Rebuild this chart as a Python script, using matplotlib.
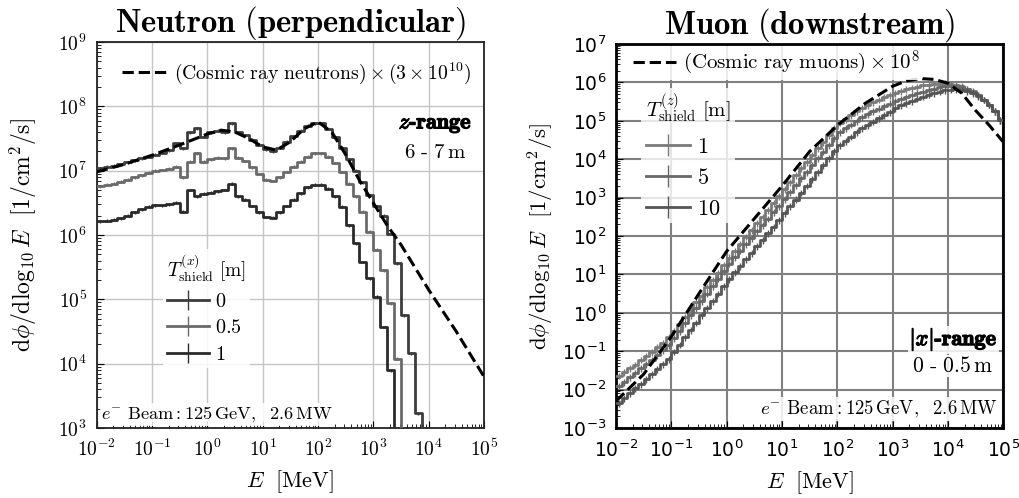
import numpy as np
import matplotlib
matplotlib.use("Agg")
import matplotlib.pyplot as plt
import matplotlib.patheffects as pe
from matplotlib.ticker import LogLocator, FuncFormatter, NullFormatter

plt.rcParams['mathtext.fontset'] = 'cm'

# ---------------- data ----------------
# Neutron (perpendicular): log10 flux per bin, 8 bins / decade from 1e-2 to 1e5 MeV
neutron_labels = ["0", "0.5", "1"]
neutron_t0 = [7.04, 7.06, 7.08, 7.10, 7.13, 7.16, 7.19, 7.22,
              7.25, 7.28, 7.32, 7.43, 7.35, 7.60, 7.66, 7.53,
              7.60, 7.62, 7.60, 7.74, 7.60, 7.55, 7.48, 7.40,
              7.33, 7.30, 7.36, 7.45, 7.54, 7.62, 7.70, 7.74,
              7.74, 7.65, 7.52, 7.36, 7.18, 7.00, 6.82, 6.62,
              6.45, 6.30, 6.02, 5.56, 4.75, 4.16, 3.23, -1,
              -1, -1, -1, -1, -1, -1, -1, -1]
neutron_t05 = [6.76, 6.78, 6.80, 6.83, 6.86, 6.90, 6.93, 6.97,
               7.00, 7.01, 7.03, 7.06, 6.90, 7.14, 7.27, 7.14,
               7.18, 7.20, 7.19, 7.35, 7.20, 7.15, 7.05, 6.95,
               6.86, 6.84, 6.90, 6.98, 7.06, 7.14, 7.22, 7.27,
               7.27, 7.22, 7.12, 6.98, 6.80, 6.60, 6.36, 6.05,
               5.77, 5.45, 4.94, 4.08, -1, -1, -1, -1,
               -1, -1, -1, -1, -1, -1, -1, -1]
neutron_t1 = [6.21, 6.22, 6.24, 6.26, 6.30, 6.35, 6.40, 6.44,
              6.46, 6.46, 6.48, 6.50, 6.36, 6.70, 6.60, 6.64,
              6.66, 6.68, 6.70, 6.80, 6.60, 6.55, 6.45, 6.35,
              6.28, 6.27, 6.35, 6.45, 6.55, 6.65, 6.74, 6.78,
              6.78, 6.72, 6.60, 6.44, 6.15, 5.87, 5.58, 5.33,
              5.04, 4.57, 3.90, -1, -1, -1, -1, -1,
              -1, -1, -1, -1, -1, -1, -1, -1]
# cosmic ray neutrons x 3e10 (log10 E, log10 flux)
cr_n_logE = [-2, -1.5, -1, -0.5, 0, 0.25, 0.5, 0.75, 1, 1.25, 1.5, 1.75, 2, 2.25,
             2.5, 2.75, 3, 3.25, 3.5, 3.75, 4, 4.5, 5]
cr_n_logF = [6.98, 7.10, 7.24, 7.40, 7.57, 7.63, 7.60, 7.50, 7.37, 7.32, 7.45, 7.65, 7.76, 7.60,
             7.25, 6.85, 6.50, 6.15, 5.85, 5.50, 5.15, 4.50, 3.80]

# Muon (downstream): log10 flux per bin, 10 bins / decade from 1e-2 to 1e5 MeV
muon_labels = ["1", "5", "10"]
muon_t1 = [-1.64, -1.55, -1.44, -1.35, -1.22, -1.12, -1.02, -0.90, -0.78, -0.64,
           -0.47, -0.30, -0.10, 0.08, 0.27, 0.45, 0.66, 0.85, 1.04, 1.24,
           1.44, 1.62, 1.80, 1.98, 2.16, 2.33, 2.50, 2.68, 2.86, 3.03,
           3.22, 3.40, 3.58, 3.76, 3.93, 4.10, 4.28, 4.45, 4.62, 4.80,
           4.95, 5.05, 5.15, 5.25, 5.33, 5.41, 5.48, 5.55, 5.61, 5.67,
           5.73, 5.78, 5.82, 5.86, 5.89, 5.92, 5.94, 5.96, 5.97, 5.98,
           5.97, 5.94, 5.90, 5.84, 5.76, 5.66, 5.55, 5.42, 5.25, 5.02]
muon_t5 = [-1.90, -1.80, -1.68, -1.57, -1.45, -1.34, -1.22, -1.10, -0.98, -0.85,
           -0.66, -0.47, -0.27, -0.07, 0.12, 0.31, 0.50, 0.70, 0.89, 1.09,
           1.28, 1.45, 1.62, 1.78, 1.95, 2.12, 2.28, 2.45, 2.62, 2.78,
           2.96, 3.14, 3.32, 3.50, 3.67, 3.85, 4.02, 4.20, 4.37, 4.55,
           4.70, 4.80, 4.90, 5.00, 5.09, 5.17, 5.25, 5.32, 5.39, 5.45,
           5.52, 5.58, 5.63, 5.68, 5.72, 5.76, 5.80, 5.84, 5.87, 5.90,
           5.91, 5.91, 5.89, 5.84, 5.77, 5.67, 5.55, 5.42, 5.25, 5.02]
muon_t10 = [-2.35, -2.23, -2.10, -1.97, -1.85, -1.72, -1.60, -1.47, -1.34, -1.20,
            -1.01, -0.83, -0.64, -0.45, -0.26, -0.07, 0.12, 0.31, 0.50, 0.70,
            0.88, 1.05, 1.22, 1.39, 1.56, 1.73, 1.90, 2.07, 2.24, 2.41,
            2.59, 2.77, 2.95, 3.13, 3.31, 3.49, 3.67, 3.85, 4.03, 4.21,
            4.37, 4.48, 4.59, 4.70, 4.80, 4.89, 4.98, 5.07, 5.15, 5.23,
            5.33, 5.40, 5.46, 5.52, 5.58, 5.63, 5.68, 5.72, 5.76, 5.79,
            5.81, 5.82, 5.81, 5.78, 5.73, 5.65, 5.55, 5.42, 5.25, 5.02]
# cosmic ray muons x 1e8
cr_mu_logE = [-2, -1.5, -1, -0.5, 0, 0.5, 1, 1.5, 2, 2.5, 3, 3.25, 3.5, 3.75, 4, 4.25, 4.5, 4.75, 5]
cr_mu_logF = [-2.30, -1.60, -0.62, 0.50, 1.60, 2.45, 3.30, 4.20, 4.88, 5.45, 5.90, 6.04, 6.10, 6.08,
              5.98, 5.72, 5.27, 4.88, 4.45]

# tick decades
x_decades = [-2, -1, 0, 1, 2, 3, 4, 5]
n_y_decades = [3, 4, 5, 6, 7, 8, 9]
m_y_decades = [-3, -2, -1, 0, 1, 2, 3, 4, 5, 6, 7]


def hist(ax, edges, logvals, color, frac, lw=2.0):
    vals = 10.0 ** np.asarray(logvals)
    centers = np.sqrt(edges[:-1] * edges[1:])
    line, = ax.step(edges, np.append(vals, vals[-1]), where='post', color=color, lw=lw, zorder=3)
    eb = ax.errorbar(centers, vals, yerr=frac * vals, fmt='none', ecolor=color, elinewidth=1.0, zorder=3)
    return (line, eb)


def cm_log(v, pos):
    return r"$10^{%d}$" % int(round(np.log10(v)))


bold = [pe.withStroke(linewidth=0.9, foreground='black')]
white_box = dict(facecolor='white', edgecolor='none', alpha=0.85, pad=1)

fig = plt.figure(figsize=(10.19, 4.98), dpi=100)
ax1 = fig.add_axes([0.0949, 0.1406, 0.380, 0.775])
ax2 = fig.add_axes([0.6045, 0.1406, 0.380, 0.771])

# ---------------- neutron panel ----------------
n_edges = np.logspace(-2, 5, 57)
n_colors = ['#3c3c3c', '#6a6a6a', '#2a2a2a']
n_handles = []
for vals, c in zip([neutron_t0, neutron_t05, neutron_t1], n_colors):
    n_handles.append(hist(ax1, n_edges, vals, c, 0.05, lw=2.0))
cr_n, = ax1.plot(10.0 ** np.array(cr_n_logE), 10.0 ** np.array(cr_n_logF), 'k--', lw=2.2, zorder=4)

ax1.set_xscale('log')
ax1.set_yscale('log')
ax1.set_xlim(1e-2, 1e5)
ax1.set_ylim(1e3, 1e9)
ax1.grid(True, which='major', color='#c4c4c4', lw=1.0)
ax1.set_axisbelow(True)
for sp in ax1.spines.values():
    sp.set_linewidth(1.3)
    sp.set_color('#222222')

leg1 = ax1.legend([cr_n], [r"$\mathrm{(Cosmic\ ray\ neutrons)}\times(3\times10^{10})$"],
                  loc='center left', bbox_to_anchor=(0.065, 0.918), frameon=False,
                  fontsize=14.2, handlelength=2.4, handletextpad=0.25, borderpad=0, borderaxespad=0)
ax1.add_artist(leg1)
ax1.legend(n_handles, [r"$%s$" % s for s in neutron_labels],
           title=r"$T^{(x)}_{\mathrm{shield}}\ [\mathrm{m}]$", title_fontsize=14, alignment='left',
           loc='center left', bbox_to_anchor=(0.17, 0.31), fontsize=14.5, handlelength=2.1,
           handletextpad=0.3, labelspacing=0.38, borderpad=0.2, borderaxespad=0,
           framealpha=0.85, edgecolor='none', facecolor='white')

ax1.text(0.969, 0.785, r"$z$-range", transform=ax1.transAxes, ha='right', va='center',
         fontsize=16, fontfamily='cmb10', path_effects=bold)
ax1.text(0.873, 0.716, r"$6\ \text{-}\ 7\,\mathrm{m}$", transform=ax1.transAxes, ha='center', va='center',
         fontsize=15)
ax1.text(0.012, 0.034, r"$e^{-}\ \mathrm{Beam}:125\,\mathrm{GeV},\ \ 2.6\,\mathrm{MW}$",
         transform=ax1.transAxes, ha='left', va='center', fontsize=13.2, bbox=white_box)

ax1.set_title(r"$\mathbf{Neutron\ (perpendicular)}$", fontsize=23.5, pad=5)
ax1.set_xlabel(r"$E\ \ [\mathrm{MeV}]$", fontsize=16, labelpad=6)
ax1.set_ylabel(r"$\mathrm{d}\phi/\mathrm{d}\log_{10}E\ \ [1/\mathrm{cm}^2/\mathrm{s}]$", fontsize=17, labelpad=14)

# ---------------- muon panel ----------------
m_edges = np.logspace(-2, 5, 71)
m_colors = ['#7a7a7a', '#686868', '#555555']
m_handles = []
for vals, c in zip([muon_t1, muon_t5, muon_t10], m_colors):
    m_handles.append(hist(ax2, m_edges, vals, c, 0.2, lw=2.0))
cr_mu, = ax2.plot(10.0 ** np.array(cr_mu_logE), 10.0 ** np.array(cr_mu_logF), 'k--', lw=2.2, zorder=4)

ax2.set_xscale('log')
ax2.set_yscale('log')
ax2.set_xlim(1e-2, 1e5)
ax2.set_ylim(1e-3, 1e7)
ax2.grid(True, which='major', color='#808080', lw=1.5)
ax2.set_axisbelow(True)
for sp in ax2.spines.values():
    sp.set_linewidth(2.0)

leg2 = ax2.legend([cr_mu], [r"$\mathrm{(Cosmic\ ray\ muons)}\times10^{8}$"],
                  loc='center left', bbox_to_anchor=(0.035, 0.95), fontsize=15,
                  handlelength=2.1, handletextpad=0.3, borderpad=0.15, borderaxespad=0,
                  framealpha=0.85, edgecolor='none', facecolor='white')
ax2.add_artist(leg2)
ax2.legend(m_handles, [r"$%s$" % s for s in muon_labels],
           title=r"$T^{(z)}_{\mathrm{shield}}\ [\mathrm{m}]$", title_fontsize=15, alignment='left',
           loc='center left', bbox_to_anchor=(0.065, 0.71), fontsize=16, handlelength=2.0,
           handletextpad=0.3, labelspacing=0.5, borderpad=0.2, borderaxespad=0,
           framealpha=0.8, edgecolor='none', facecolor='white')

ax2.text(0.985, 0.229, r"$|x|$-range", transform=ax2.transAxes, ha='right', va='center',
         fontsize=16, fontfamily='cmb10', path_effects=bold, bbox=white_box)
ax2.text(0.868, 0.161, r"$0\ \text{-}\ 0.5\,\mathrm{m}$", transform=ax2.transAxes, ha='center',
         va='center', fontsize=15.5, bbox=white_box)
ax2.text(0.985, 0.049, r"$e^{-}\ \mathrm{Beam}:125\,\mathrm{GeV},\ \ 2.6\,\mathrm{MW}$",
         transform=ax2.transAxes, ha='right', va='center', fontsize=13.5, bbox=white_box)

ax2.set_title(r"$\mathbf{Muon\ (downstream)}$", fontsize=23.5, pad=5)
ax2.set_xlabel(r"$E\ \ [\mathrm{MeV}]$", fontsize=16, labelpad=6)
ax2.set_ylabel(r"$\mathrm{d}\phi/\mathrm{d}\log_{10}E\ \ [1/\mathrm{cm}^2/\mathrm{s}]$", fontsize=16.5, labelpad=4)

# ---------------- ticks ----------------
for ax, ydec in ((ax1, n_y_decades), (ax2, m_y_decades)):
    ax.set_xticks(10.0 ** np.array(x_decades, dtype=float))
    ax.set_yticks(10.0 ** np.array(ydec, dtype=float))
    ax.xaxis.set_minor_locator(LogLocator(base=10, subs=np.arange(2, 10), numticks=20))
    ax.yaxis.set_minor_locator(LogLocator(base=10, subs=np.arange(2, 10), numticks=20))
    ax.xaxis.set_minor_formatter(NullFormatter())
    ax.yaxis.set_minor_formatter(NullFormatter())
    ax.tick_params(which='both', direction='in')
    ax.tick_params(which='major', length=5, labelsize=13.5)
    ax.tick_params(which='minor', length=3)
    ax.tick_params(axis='x', which='major', pad=8)
    ax.tick_params(axis='y', which='major', pad=7)

ax2.xaxis.set_major_formatter(FuncFormatter(lambda v, p: r"$\mathdefault{10^{%d}}$" % int(round(np.log10(v)))))
ax2.yaxis.set_major_formatter(FuncFormatter(lambda v, p: r"$\mathdefault{10^{%d}}$" % int(round(np.log10(v)))))
ax1.xaxis.set_major_formatter(FuncFormatter(cm_log))
ax1.yaxis.set_major_formatter(FuncFormatter(cm_log))
ax1.tick_params(which='major', labelsize=14)
ax1.set_xlim(1e-2, 1e5)
ax1.set_ylim(1e3, 1e9)
ax2.set_xlim(1e-2, 1e5)
ax2.set_ylim(1e-3, 1e7)

fig.savefig("out.png", dpi=100)
